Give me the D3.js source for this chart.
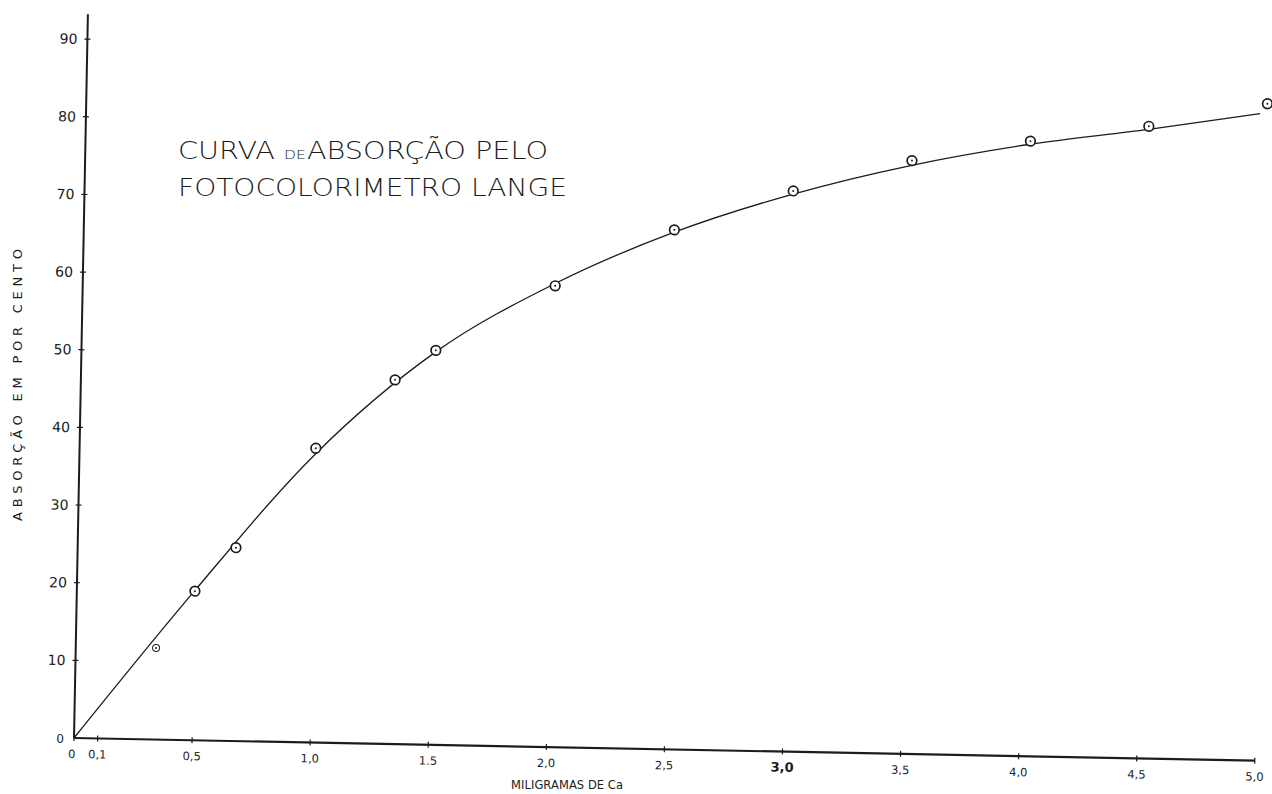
<!DOCTYPE html>
<html>
<head>
<meta charset="utf-8">
<script src="https://cdn.jsdelivr.net/npm/d3@7"></script>
<style>
  body { margin: 0; background: #fff; }
  svg { display: block; }
</style>
</head>
<body>
<svg id="chart" width="1272" height="794"></svg>
<script>
// values
var pointX = [0.34, 0.5, 0.67, 1.0, 1.33, 1.5, 2.0, 2.5, 3.0, 3.5, 4.0, 4.5, 5.0];
var pointY = [11.8, 19.2, 24.9, 37.9, 46.9, 50.8, 59.4, 66.9, 72.2, 76.4, 79.2, 81.4, 84.6];

// the hand drawn fitted line
var curveX = [0, 0.5, 1.0, 1.5, 2.0, 2.5, 3.0, 3.5, 4.0, 4.5, 4.97];
var curveY = [0, 19.3, 37.2, 50.6, 59.7, 66.6, 71.8, 75.8, 78.8, 81.0, 83.3];

var xTicks = [0, 0.1, 0.5, 1.0, 1.5, 2.0, 2.5, 3.0, 3.5, 4.0, 4.5, 5.0];
var xTickLabels = ["0", "0,1", "0,5", "1,0", "1.5", "2,0", "2,5", "3,0", "3,5", "4,0", "4,5", "5,0"];
var yTicks = [0, 10, 20, 30, 40, 50, 60, 70, 80, 90];
var yTickLabels = ["0", "10", "20", "30", "40", "50", "60", "70", "80", "90"];

var xTitle = "MILIGRAMAS DE Ca";
var yTitle = "ABSORÇÃO EM POR CENTO";

var ink = "#1c1c1c";
var svg = d3.select("#chart");

var x = d3.scaleLinear().domain([0, 5]).range([74, 1255]);
var y = d3.scaleLinear().domain([0, 90]).range([738, 39]);

// the scan is turned about one degree, so the plot is drawn turned too
var g = svg.append("g")
    .attr("transform", "rotate(1.1," + x(0) + "," + y(0) + ")");

// axes
g.append("line")
    .attr("x1", x(0)).attr("x2", x(5))
    .attr("y1", y(0)).attr("y2", y(0))
    .attr("stroke", ink).attr("stroke-width", 2.2);
g.append("line")
    .attr("x1", x(0)).attr("x2", x(0))
    .attr("y1", y(0)).attr("y2", y(93.2))
    .attr("stroke", ink).attr("stroke-width", 2);

// x ticks
g.selectAll(".xt")
    .data(xTicks)
    .enter().append("line")
    .attr("class", "xt")
    .attr("x1", function(d){ return x(d); })
    .attr("x2", function(d){ return x(d); })
    .attr("y1", y(0) - 3).attr("y2", y(0) + 3)
    .attr("stroke", ink).attr("stroke-width", 1.2);

g.selectAll(".xl")
    .data(xTicks)
    .enter().append("text")
    .attr("class", "xl")
    .attr("x", function(d, i){ return i == 0 ? x(d) - 2 : x(d); })
    .attr("y", y(0) + 20)
    .attr("text-anchor", "middle")
    .attr("font-family", "DejaVu Sans")
    .attr("font-size", function(d, i){ return xTickLabels[i] == "3,0" ? 13 : 11.5; })
    .attr("font-weight", function(d, i){ return xTickLabels[i] == "3,0" ? "bold" : "normal"; })
    .attr("fill", ink)
    .text(function(d, i){ return xTickLabels[i]; });

// y ticks
g.selectAll(".yt")
    .data(yTicks.slice(1))
    .enter().append("line")
    .attr("class", "yt")
    .attr("x1", x(0) - 3).attr("x2", x(0) + 3)
    .attr("y1", function(d){ return y(d); })
    .attr("y2", function(d){ return y(d); })
    .attr("stroke", ink).attr("stroke-width", 1.2);

g.selectAll(".yl")
    .data(yTicks)
    .enter().append("text")
    .attr("class", "yl")
    .attr("x", x(0) - 10)
    .attr("y", function(d){ return y(d) + 5; })
    .attr("text-anchor", "end")
    .attr("font-family", "DejaVu Sans")
    .attr("font-size", function(d){ return d == 0 ? 12 : 14; })
    .attr("fill", ink)
    .text(function(d, i){ return yTickLabels[i]; });

// fitted curve
var line = d3.line()
    .x(function(d){ return x(d[0]); })
    .y(function(d){ return y(d[1]); })
    .curve(d3.curveMonotoneX);

g.append("path")
    .datum(curveX.map(function(v, i){ return [v, curveY[i]]; }))
    .attr("d", line)
    .attr("fill", "none")
    .attr("stroke", ink)
    .attr("stroke-width", 1.3);

// measured points: ring with a dot in the middle
var pts = pointX.map(function(v, i){ return [v, pointY[i]]; });
g.selectAll(".pt")
    .data(pts)
    .enter().append("circle")
    .attr("class", "pt")
    .attr("cx", function(d){ return x(d[0]); })
    .attr("cy", function(d){ return y(d[1]); })
    .attr("r", function(d, i){ return i == 0 ? 3.5 : 4.8; })
    .attr("fill", "#fff")
    .attr("stroke", ink)
    .attr("stroke-width", function(d, i){ return i == 0 ? 1 : 1.7; });
g.selectAll(".dot")
    .data(pts)
    .enter().append("circle")
    .attr("class", "dot")
    .attr("cx", function(d){ return x(d[0]); })
    .attr("cy", function(d){ return y(d[1]); })
    .attr("r", 1)
    .attr("fill", ink);

// title, the "DE" is lettered small
var t1 = svg.append("text")
    .attr("x", 178).attr("y", 159)
    .attr("font-family", "DejaVu Sans").attr("font-weight", 200)
    .attr("font-size", 24).attr("fill", ink)
    .attr("textLength", 370).attr("lengthAdjust", "spacingAndGlyphs");
t1.append("tspan").text("CURVA ");
t1.append("tspan").attr("font-size", 13).text("DE");
t1.append("tspan").attr("dx", 1).text("ABSORÇÃO PELO");

svg.append("text")
    .attr("x", 178).attr("y", 196)
    .attr("font-family", "DejaVu Sans").attr("font-weight", 200)
    .attr("font-size", 24).attr("fill", ink)
    .attr("textLength", 389).attr("lengthAdjust", "spacingAndGlyphs")
    .text("FOTOCOLORIMETRO LANGE");

// axis titles
svg.append("text")
    .attr("x", 567).attr("y", 789)
    .attr("text-anchor", "middle")
    .attr("font-family", "DejaVu Sans").attr("font-size", 11.5)
    .attr("fill", ink)
    .attr("textLength", 112).attr("lengthAdjust", "spacing")
    .text(xTitle);

svg.append("text")
    .attr("transform", "translate(22,385) rotate(-90)")
    .attr("text-anchor", "middle")
    .attr("font-family", "DejaVu Sans").attr("font-size", 13)
    .attr("fill", ink)
    .attr("textLength", 272).attr("lengthAdjust", "spacing")
    .text(yTitle);
</script>
</body>
</html>
